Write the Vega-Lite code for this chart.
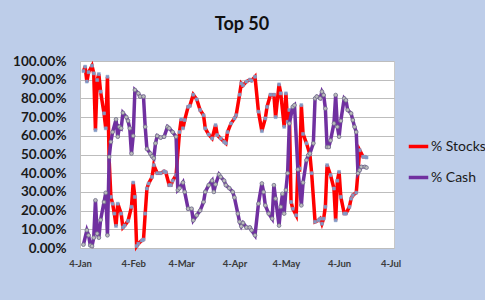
{
  "$schema": "https://vega.github.io/schema/vega-lite/v6.json",
  "width": 314,
  "height": 187,
  "autosize": "none",
  "padding": {"left": 80, "top": 61, "right": 91, "bottom": 52},
  "background": "#bdcde9",
  "title": {"text": "Top 50", "font": "Lato", "fontSize": 18, "fontWeight": "bold", "color": "#111111", "baseline": "alphabetic", "offset": 6, "dx": 5},
  "config": {
    "view": {"fill": "#ffffff", "stroke": "#c8c8c8", "strokeWidth": 1},
    "legend": {"labelFont": "Lato", "labelFontSize": 14, "labelColor": "#1a1a1a"}
  },
  "data": {"values": [
    {"date":"2010-01-06","series":"% Stocks","value":94.6},
    {"date":"2010-01-07","series":"% Stocks","value":97},
    {"date":"2010-01-08","series":"% Stocks","value":89},
    {"date":"2010-01-09","series":"% Stocks","value":94},
    {"date":"2010-01-11","series":"% Stocks","value":97.5},
    {"date":"2010-01-12","series":"% Stocks","value":93.4},
    {"date":"2010-01-13","series":"% Stocks","value":63},
    {"date":"2010-01-14","series":"% Stocks","value":89.8},
    {"date":"2010-01-15","series":"% Stocks","value":93},
    {"date":"2010-01-16","series":"% Stocks","value":83.6},
    {"date":"2010-01-18","series":"% Stocks","value":72},
    {"date":"2010-01-19","series":"% Stocks","value":64},
    {"date":"2010-01-20","series":"% Stocks","value":91.6},
    {"date":"2010-01-21","series":"% Stocks","value":47},
    {"date":"2010-01-22","series":"% Stocks","value":27.3},
    {"date":"2010-01-23","series":"% Stocks","value":23.7},
    {"date":"2010-01-24","series":"% Stocks","value":18.4},
    {"date":"2010-01-25","series":"% Stocks","value":11.8},
    {"date":"2010-01-26","series":"% Stocks","value":23.7},
    {"date":"2010-01-28","series":"% Stocks","value":18.4},
    {"date":"2010-01-29","series":"% Stocks","value":11},
    {"date":"2010-01-30","series":"% Stocks","value":12},
    {"date":"2010-02-01","series":"% Stocks","value":14.5},
    {"date":"2010-02-03","series":"% Stocks","value":22},
    {"date":"2010-02-04","series":"% Stocks","value":35},
    {"date":"2010-02-05","series":"% Stocks","value":27.3},
    {"date":"2010-02-06","series":"% Stocks","value":1},
    {"date":"2010-02-07","series":"% Stocks","value":2.3},
    {"date":"2010-02-09","series":"% Stocks","value":4},
    {"date":"2010-02-10","series":"% Stocks","value":4.5},
    {"date":"2010-02-11","series":"% Stocks","value":18.4},
    {"date":"2010-02-12","series":"% Stocks","value":31.8},
    {"date":"2010-02-13","series":"% Stocks","value":34.5},
    {"date":"2010-02-15","series":"% Stocks","value":38},
    {"date":"2010-02-16","series":"% Stocks","value":44.3},
    {"date":"2010-02-18","series":"% Stocks","value":40},
    {"date":"2010-02-20","series":"% Stocks","value":40},
    {"date":"2010-02-22","series":"% Stocks","value":41},
    {"date":"2010-02-23","series":"% Stocks","value":40.5},
    {"date":"2010-02-25","series":"% Stocks","value":33.6},
    {"date":"2010-02-26","series":"% Stocks","value":33.6},
    {"date":"2010-02-27","series":"% Stocks","value":36},
    {"date":"2010-03-01","series":"% Stocks","value":39},
    {"date":"2010-03-03","series":"% Stocks","value":62},
    {"date":"2010-03-04","series":"% Stocks","value":68.8},
    {"date":"2010-03-05","series":"% Stocks","value":64},
    {"date":"2010-03-06","series":"% Stocks","value":68.4},
    {"date":"2010-03-08","series":"% Stocks","value":75.5},
    {"date":"2010-03-09","series":"% Stocks","value":76},
    {"date":"2010-03-11","series":"% Stocks","value":82},
    {"date":"2010-03-13","series":"% Stocks","value":79.5},
    {"date":"2010-03-15","series":"% Stocks","value":73.8},
    {"date":"2010-03-17","series":"% Stocks","value":71},
    {"date":"2010-03-18","series":"% Stocks","value":64},
    {"date":"2010-03-20","series":"% Stocks","value":60.7},
    {"date":"2010-03-22","series":"% Stocks","value":58.6},
    {"date":"2010-03-24","series":"% Stocks","value":65.7},
    {"date":"2010-03-25","series":"% Stocks","value":60.4},
    {"date":"2010-03-27","series":"% Stocks","value":58.6},
    {"date":"2010-03-29","series":"% Stocks","value":56.8},
    {"date":"2010-03-30","series":"% Stocks","value":56},
    {"date":"2010-03-31","series":"% Stocks","value":62},
    {"date":"2010-04-02","series":"% Stocks","value":66.6},
    {"date":"2010-04-04","series":"% Stocks","value":69.3},
    {"date":"2010-04-05","series":"% Stocks","value":71},
    {"date":"2010-04-07","series":"% Stocks","value":82},
    {"date":"2010-04-08","series":"% Stocks","value":88},
    {"date":"2010-04-09","series":"% Stocks","value":87},
    {"date":"2010-04-11","series":"% Stocks","value":89},
    {"date":"2010-04-13","series":"% Stocks","value":90},
    {"date":"2010-04-14","series":"% Stocks","value":89.5},
    {"date":"2010-04-16","series":"% Stocks","value":91.6},
    {"date":"2010-04-18","series":"% Stocks","value":72.9},
    {"date":"2010-04-20","series":"% Stocks","value":62.5},
    {"date":"2010-04-22","series":"% Stocks","value":69.3},
    {"date":"2010-04-23","series":"% Stocks","value":75.5},
    {"date":"2010-04-25","series":"% Stocks","value":82},
    {"date":"2010-04-27","series":"% Stocks","value":82},
    {"date":"2010-04-28","series":"% Stocks","value":70},
    {"date":"2010-04-30","series":"% Stocks","value":87.5},
    {"date":"2010-05-01","series":"% Stocks","value":82.7},
    {"date":"2010-05-03","series":"% Stocks","value":64.8},
    {"date":"2010-05-04","series":"% Stocks","value":82.7},
    {"date":"2010-05-05","series":"% Stocks","value":67.5},
    {"date":"2010-05-06","series":"% Stocks","value":73.8},
    {"date":"2010-05-07","series":"% Stocks","value":24.6},
    {"date":"2010-05-08","series":"% Stocks","value":21},
    {"date":"2010-05-10","series":"% Stocks","value":17.5},
    {"date":"2010-05-11","series":"% Stocks","value":43.4},
    {"date":"2010-05-12","series":"% Stocks","value":42.5},
    {"date":"2010-05-13","series":"% Stocks","value":76.4},
    {"date":"2010-05-14","series":"% Stocks","value":61},
    {"date":"2010-05-16","series":"% Stocks","value":56},
    {"date":"2010-05-18","series":"% Stocks","value":50},
    {"date":"2010-05-19","series":"% Stocks","value":40},
    {"date":"2010-05-21","series":"% Stocks","value":14},
    {"date":"2010-05-23","series":"% Stocks","value":14.8},
    {"date":"2010-05-24","series":"% Stocks","value":15.7},
    {"date":"2010-05-25","series":"% Stocks","value":13},
    {"date":"2010-05-26","series":"% Stocks","value":15.7},
    {"date":"2010-05-27","series":"% Stocks","value":22},
    {"date":"2010-05-28","series":"% Stocks","value":44.3},
    {"date":"2010-05-30","series":"% Stocks","value":39},
    {"date":"2010-06-01","series":"% Stocks","value":31.8},
    {"date":"2010-06-02","series":"% Stocks","value":14.8},
    {"date":"2010-06-03","series":"% Stocks","value":36},
    {"date":"2010-06-04","series":"% Stocks","value":40.7},
    {"date":"2010-06-05","series":"% Stocks","value":27.3},
    {"date":"2010-06-07","series":"% Stocks","value":18.4},
    {"date":"2010-06-08","series":"% Stocks","value":18.4},
    {"date":"2010-06-10","series":"% Stocks","value":22},
    {"date":"2010-06-11","series":"% Stocks","value":26.4},
    {"date":"2010-06-12","series":"% Stocks","value":28.2},
    {"date":"2010-06-14","series":"% Stocks","value":29.6},
    {"date":"2010-06-15","series":"% Stocks","value":40.7},
    {"date":"2010-06-16","series":"% Stocks","value":52.3},
    {"date":"2010-06-18","series":"% Stocks","value":48.8},
    {"date":"2010-06-19","series":"% Stocks","value":48.8},
    {"date":"2010-06-20","series":"% Stocks","value":48.4},
    {"date":"2010-01-06","series":"% Cash","value":1.8},
    {"date":"2010-01-08","series":"% Cash","value":9.5},
    {"date":"2010-01-09","series":"% Cash","value":6.8},
    {"date":"2010-01-10","series":"% Cash","value":1.4},
    {"date":"2010-01-11","series":"% Cash","value":1},
    {"date":"2010-01-12","series":"% Cash","value":5.5},
    {"date":"2010-01-13","series":"% Cash","value":25.5},
    {"date":"2010-01-14","series":"% Cash","value":7.7},
    {"date":"2010-01-15","series":"% Cash","value":5.5},
    {"date":"2010-01-16","series":"% Cash","value":15},
    {"date":"2010-01-18","series":"% Cash","value":24.6},
    {"date":"2010-01-19","series":"% Cash","value":29.5},
    {"date":"2010-01-20","series":"% Cash","value":6.8},
    {"date":"2010-01-21","series":"% Cash","value":48.7},
    {"date":"2010-01-22","series":"% Cash","value":56.8},
    {"date":"2010-01-23","series":"% Cash","value":62},
    {"date":"2010-01-25","series":"% Cash","value":68.8},
    {"date":"2010-01-26","series":"% Cash","value":59.5},
    {"date":"2010-01-27","series":"% Cash","value":64.8},
    {"date":"2010-01-28","series":"% Cash","value":64},
    {"date":"2010-01-29","series":"% Cash","value":72.3},
    {"date":"2010-01-31","series":"% Cash","value":70},
    {"date":"2010-02-01","series":"% Cash","value":68},
    {"date":"2010-02-02","series":"% Cash","value":64},
    {"date":"2010-02-03","series":"% Cash","value":50.5},
    {"date":"2010-02-04","series":"% Cash","value":60},
    {"date":"2010-02-05","series":"% Cash","value":84.5},
    {"date":"2010-02-07","series":"% Cash","value":82.7},
    {"date":"2010-02-08","series":"% Cash","value":81},
    {"date":"2010-02-10","series":"% Cash","value":81},
    {"date":"2010-02-11","series":"% Cash","value":64.8},
    {"date":"2010-02-12","series":"% Cash","value":53},
    {"date":"2010-02-14","series":"% Cash","value":50.5},
    {"date":"2010-02-15","series":"% Cash","value":49},
    {"date":"2010-02-16","series":"% Cash","value":48},
    {"date":"2010-02-17","series":"% Cash","value":56},
    {"date":"2010-02-18","series":"% Cash","value":60},
    {"date":"2010-02-20","series":"% Cash","value":59},
    {"date":"2010-02-22","series":"% Cash","value":59.5},
    {"date":"2010-02-24","series":"% Cash","value":64.8},
    {"date":"2010-02-25","series":"% Cash","value":64},
    {"date":"2010-02-27","series":"% Cash","value":62},
    {"date":"2010-03-01","series":"% Cash","value":59.5},
    {"date":"2010-03-02","series":"% Cash","value":31},
    {"date":"2010-03-03","series":"% Cash","value":32},
    {"date":"2010-03-05","series":"% Cash","value":35},
    {"date":"2010-03-06","series":"% Cash","value":30},
    {"date":"2010-03-08","series":"% Cash","value":21},
    {"date":"2010-03-10","series":"% Cash","value":21},
    {"date":"2010-03-11","series":"% Cash","value":14.8},
    {"date":"2010-03-13","series":"% Cash","value":17.5},
    {"date":"2010-03-15","series":"% Cash","value":20},
    {"date":"2010-03-17","series":"% Cash","value":24.6},
    {"date":"2010-03-18","series":"% Cash","value":30},
    {"date":"2010-03-20","series":"% Cash","value":33.6},
    {"date":"2010-03-22","series":"% Cash","value":36},
    {"date":"2010-03-23","series":"% Cash","value":30},
    {"date":"2010-03-24","series":"% Cash","value":34},
    {"date":"2010-03-26","series":"% Cash","value":39.3},
    {"date":"2010-03-27","series":"% Cash","value":38},
    {"date":"2010-03-29","series":"% Cash","value":36},
    {"date":"2010-03-30","series":"% Cash","value":33.6},
    {"date":"2010-04-01","series":"% Cash","value":32},
    {"date":"2010-04-03","series":"% Cash","value":30},
    {"date":"2010-04-04","series":"% Cash","value":27},
    {"date":"2010-04-06","series":"% Cash","value":18.4},
    {"date":"2010-04-07","series":"% Cash","value":14},
    {"date":"2010-04-08","series":"% Cash","value":11.6},
    {"date":"2010-04-09","series":"% Cash","value":13.4},
    {"date":"2010-04-11","series":"% Cash","value":11},
    {"date":"2010-04-13","series":"% Cash","value":11},
    {"date":"2010-04-14","series":"% Cash","value":9.5},
    {"date":"2010-04-16","series":"% Cash","value":6.8},
    {"date":"2010-04-18","series":"% Cash","value":23.7},
    {"date":"2010-04-20","series":"% Cash","value":34.5},
    {"date":"2010-04-21","series":"% Cash","value":30},
    {"date":"2010-04-22","series":"% Cash","value":22.8},
    {"date":"2010-04-24","series":"% Cash","value":18.4},
    {"date":"2010-04-26","series":"% Cash","value":15.7},
    {"date":"2010-04-27","series":"% Cash","value":33.6},
    {"date":"2010-04-28","series":"% Cash","value":26.4},
    {"date":"2010-04-30","series":"% Cash","value":12},
    {"date":"2010-05-01","series":"% Cash","value":22},
    {"date":"2010-05-02","series":"% Cash","value":29},
    {"date":"2010-05-03","series":"% Cash","value":18.4},
    {"date":"2010-05-04","series":"% Cash","value":31},
    {"date":"2010-05-05","series":"% Cash","value":40},
    {"date":"2010-05-06","series":"% Cash","value":66.6},
    {"date":"2010-05-08","series":"% Cash","value":75.5},
    {"date":"2010-05-09","series":"% Cash","value":76.4},
    {"date":"2010-05-11","series":"% Cash","value":42},
    {"date":"2010-05-13","series":"% Cash","value":22.8},
    {"date":"2010-05-14","series":"% Cash","value":35},
    {"date":"2010-05-16","series":"% Cash","value":47},
    {"date":"2010-05-17","series":"% Cash","value":49.6},
    {"date":"2010-05-18","series":"% Cash","value":50.5},
    {"date":"2010-05-20","series":"% Cash","value":56},
    {"date":"2010-05-21","series":"% Cash","value":80},
    {"date":"2010-05-22","series":"% Cash","value":81},
    {"date":"2010-05-24","series":"% Cash","value":80},
    {"date":"2010-05-25","series":"% Cash","value":83.6},
    {"date":"2010-05-26","series":"% Cash","value":81.8},
    {"date":"2010-05-27","series":"% Cash","value":74.6},
    {"date":"2010-05-28","series":"% Cash","value":54},
    {"date":"2010-05-29","series":"% Cash","value":54},
    {"date":"2010-05-30","series":"% Cash","value":57.5},
    {"date":"2010-06-01","series":"% Cash","value":66.6},
    {"date":"2010-06-02","series":"% Cash","value":81.8},
    {"date":"2010-06-03","series":"% Cash","value":64.8},
    {"date":"2010-06-04","series":"% Cash","value":59.5},
    {"date":"2010-06-05","series":"% Cash","value":68},
    {"date":"2010-06-07","series":"% Cash","value":80},
    {"date":"2010-06-08","series":"% Cash","value":79},
    {"date":"2010-06-09","series":"% Cash","value":73.8},
    {"date":"2010-06-11","series":"% Cash","value":72},
    {"date":"2010-06-12","series":"% Cash","value":68.4},
    {"date":"2010-06-13","series":"% Cash","value":64.8},
    {"date":"2010-06-14","series":"% Cash","value":62},
    {"date":"2010-06-15","series":"% Cash","value":40},
    {"date":"2010-06-16","series":"% Cash","value":41.6},
    {"date":"2010-06-17","series":"% Cash","value":43.4},
    {"date":"2010-06-19","series":"% Cash","value":43.4},
    {"date":"2010-06-20","series":"% Cash","value":43}
  ]},
  "encoding": {
    "x": {
      "field": "date", "type": "temporal",
      "scale": {"type": "utc", "domain": [{"year": 2010, "month": 1, "date": 4, "utc": true}, {"year": 2010, "month": 7, "date": 6, "utc": true}]},
      "axis": {
        "title": null, "grid": false, "domain": false, "ticks": false,
        "values": [
          {"year": 2010, "month": 1, "date": 4, "utc": true},
          {"year": 2010, "month": 2, "date": 4, "utc": true},
          {"year": 2010, "month": 3, "date": 4, "utc": true},
          {"year": 2010, "month": 4, "date": 4, "utc": true},
          {"year": 2010, "month": 5, "date": 4, "utc": true},
          {"year": 2010, "month": 6, "date": 4, "utc": true},
          {"year": 2010, "month": 7, "date": 4, "utc": true}
        ],
        "labelExpr": "utcFormat(datum.value, '%-d-%b')",
        "labelFont": "Lato", "labelFontSize": 9.5, "labelFontWeight": "bold", "labelColor": "#3a3a3a",
        "labelPadding": 10, "labelOverlap": false, "labelFlush": false
      }
    },
    "y": {
      "field": "value", "type": "quantitative",
      "scale": {"domain": [0, 100], "nice": false},
      "axis": {
        "title": null, "values": [0, 10, 20, 30, 40, 50, 60, 70, 80, 90, 100],
        "labelExpr": "format(datum.value, '.2f') + '%'",
        "labelFont": "Lato", "labelFontSize": 13.5, "labelFontWeight": "bold", "labelColor": "#1a1a1a",
        "labelPadding": 14, "ticks": false, "domain": true, "domainColor": "#bfbfbf",
        "gridColor": "#bdbdbd", "gridWidth": 1
      }
    }
  },
  "layer": [
    {
      "transform": [{"filter": "datum.series === '% Stocks'"}],
      "mark": {"type": "line", "strokeWidth": 3.5, "interpolate": "linear"},
      "encoding": {
        "color": {
          "field": "series", "type": "nominal",
          "scale": {"domain": ["% Stocks", "% Cash"], "range": ["#ff0000", "#7030a0"]},
          "legend": {
            "title": null, "orient": "none", "legendX": 327, "legendY": 74,
            "symbolType": "stroke", "symbolStrokeWidth": 3.5, "symbolSize": 380,
            "rowPadding": 12, "labelOffset": 1
          }
        }
      }
    },
    {
      "transform": [{"filter": "datum.series === '% Stocks'"}],
      "mark": {"type": "point", "shape": "square", "size": 9, "filled": true, "fill": "#7f97c4", "stroke": "#8ca0c8", "strokeWidth": 0.5, "opacity": 1}
    },
    {
      "transform": [{"filter": "datum.series === '% Cash'"}],
      "mark": {"type": "line", "strokeWidth": 3.5, "interpolate": "linear"},
      "encoding": {
        "color": {"field": "series", "type": "nominal"}
      }
    },
    {
      "transform": [{"filter": "datum.series === '% Cash'"}],
      "mark": {"type": "point", "shape": "circle", "size": 14, "filled": true, "fill": "#bcbcbc", "stroke": "#6f6f8a", "strokeWidth": 0.8, "opacity": 1}
    }
  ]
}
